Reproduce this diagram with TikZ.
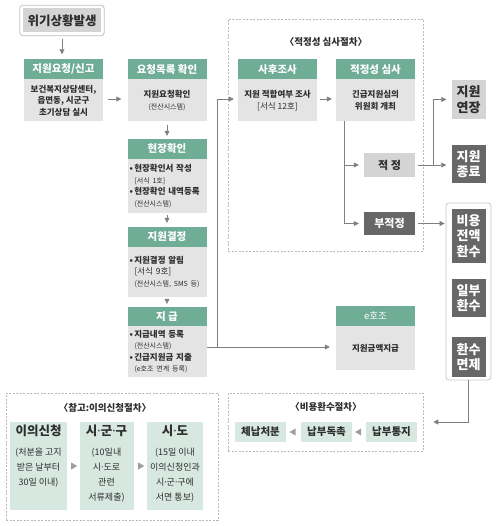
\documentclass[tikz,border=0pt]{standalone}
\usepackage{fontspec}
\setmainfont{Noto Sans CJK KR}
\newfontfamily\latinf{Noto Sans}
\usetikzlibrary{arrows.meta,shapes.geometric,fit}
\definecolor{hdgreen}{HTML}{6FAD96}
\definecolor{bdgray}{HTML}{E4E4E4}
\definecolor{ltgray}{HTML}{D4D4D4}
\definecolor{dkgray}{HTML}{676767}
\definecolor{palegreen}{HTML}{D6E8E0}
\definecolor{linegray}{HTML}{808080}
\definecolor{txtgray}{HTML}{2E2E2E}
\newcommand{\fsz}[2]{\fontsize{#1}{#2}\selectfont}
\newcommand{\sm}{\mdseries\fsz{7}{9}}
\newcommand{\md}{{\latinf\mdseries ·}}
\newcommand{\flowarrow}{-{Triangle[length=5pt,width=5pt]}}
\tikzset{
  hd/.style={fill=hdgreen,text=white,font=\bfseries\fsz{10.5}{12},minimum width=79,minimum height=20,inner sep=0},
  bd/.style={fill=bdgray,text=txtgray,font=\bfseries\fsz{8.5}{11.5},minimum width=79,inner sep=0,align=center},
  lst/.style={text width=75,inner xsep=2,align=left},
  crisisbox/.style={fill=ltgray,text=txtgray,font=\bfseries\fsz{12.5}{14},minimum width=78,minimum height=24,inner sep=0},
  ltbox/.style={fill=ltgray,text=txtgray,font=\bfseries\fsz{11}{13},inner sep=0,align=center},
  dkbox/.style={fill=dkgray,text=white,font=\bfseries\fsz{11}{13},inner sep=0,align=center},
  rbox/.style={font=\bfseries\fsz{13}{15.5},minimum width=34},
  procframe/.style={draw=gray!55,dash pattern=on 2pt off 1.5pt,line width=0.6pt,inner sep=0},
  proctitle/.style={font=\bfseries\fsz{9.5}{11},text=txtgray},
  pgbox/.style={fill=palegreen,text=txtgray,inner sep=0},
  tri/.style={isosceles triangle,isosceles triangle stretches,fill=gray!75,minimum width=7,minimum height=6,inner sep=0},
  conn/.style={draw=linegray,line width=0.7pt},
}

\begin{document}
\begin{tikzpicture}[x=1pt,y=-1pt]
\useasboundingbox (0,0) rectangle (497,526);

% request side
\node[crisisbox] (crisis) at (62,20.5) {위기상황발생};
\node[fit=(crisis),inner sep=3,draw=gray!50,line width=0.8pt,rounded corners=3] (crisisframe) {};
\node[hd] (reqhd) at (63.5,69.5) {지원요청/신고};
\node[bd,minimum height=42] (reqbd) at (63.5,100.5) {보건복지상담센터,\\읍면동, 시군구\\초기상담 실시};
\node[hd] (listhd) at (167,69.5) {요청목록 확인};
\node[bd,minimum height=42] (listbd) at (167,100.5) {지원요청확인\\{\sm (전산시스템)}};
\node[hd] (sitehd) at (167,149) {현장확인};
\node[bd,lst,minimum height=54] (sitebd) at (167,186) {•\,현장확인서 작성\\\hspace*{5pt}{\sm [서식 1호]}\\•\,현장확인 내역등록\\\hspace*{5pt}{\sm (전산시스템)}};
\node[hd] (dechd) at (167,237) {지원결정};
\node[bd,lst,minimum height=50] (decbd) at (167,272) {•\,지원결정 알림\\\hspace*{5pt}{\mdseries [서식 9호]}\\\hspace*{5pt}{\sm (전산시스템, SMS 등)}};
\node[hd,minimum height=19] (payhd) at (167,316.5) {지 급};
\node[bd,lst,minimum height=51] (paybd) at (167,351.5) {•\,지급내역 등록\\\hspace*{5pt}{\sm (전산시스템)}\\•\,긴급지원금 지출\\\hspace*{5pt}{\sm (e호조 연계 등록)}};

\draw[conn,\flowarrow,shorten <=3pt,shorten >=5pt] (crisisframe.south) -- (crisisframe.south |- reqhd.north);
\draw[conn,\flowarrow,shorten <=5pt,shorten >=6pt] (reqbd.east |- 0,99) -- (listbd.west |- 0,99);
\draw[conn,\flowarrow,shorten <=3pt,shorten >=3pt] (listbd) -- (sitehd);
\draw[conn,\flowarrow,shorten <=2pt,shorten >=4pt] (sitebd) -- (dechd);
\draw[conn,\flowarrow,shorten <=2pt,shorten >=3pt] (decbd) -- (payhd);

% review procedure
\node[procframe,minimum width=195,minimum height=232] (reviewproc) at (325.5,135) {};
\node[proctitle] (reviewtitle) at (326,42) {〈적정성 심사절차〉};
\node[hd] (posthd) at (277.5,69.5) {사후조사};
\node[bd,minimum height=42] (postbd) at (277.5,100.5) {지원 적합여부 조사\\{\mdseries [서식 12호]}};
\node[hd] (revhd) at (375.5,69.5) {적정성 심사};
\node[bd,minimum height=42] (revbd) at (375.5,100.5) {긴급지원심의\\위원회 개최};
\node[ltbox,minimum width=51,minimum height=24] (okbox) at (389.5,165) {적 정};
\node[dkbox,minimum width=51,minimum height=23] (nokbox) at (389.5,223.5) {부적정};
\node[hd] (ehojohd) at (375.5,316) {\mdseries\fsz{9.5}{11}e호조};
\node[bd,minimum height=44] (ehojobd) at (375.5,348) {지원금액지급};

\node[ltbox,rbox,minimum height=39] (extbox) at (468.5,99.5) {지원\\연장};
\node[dkbox,rbox,minimum height=38] (endbox) at (468.5,164) {지원\\종료};
\node[draw=gray!45,line width=0.8pt,rounded corners=3,minimum width=45,minimum height=177] (refundgrp) at (468.5,291.5) {};
\node[dkbox,rbox,minimum height=54] (fullbox) at (468.5,236) {비용\\전액\\환수};
\node[dkbox,rbox,minimum height=38] (partbox) at (468.5,298) {일부\\환수};
\node[dkbox,rbox,minimum height=40] (waivebox) at (468.5,357) {환수\\면제};

\draw[conn,\flowarrow,shorten <=3pt,shorten >=4pt] (postbd.east |- 0,99) -- (revbd.west |- 0,99);
\coordinate (revdown) at (344,121.5);
\draw[conn,\flowarrow,shorten >=5pt] (revdown) |- (okbox.west);
\draw[conn,\flowarrow,shorten >=5pt] (revdown) |- (nokbox.west);
\coordinate (okjct) at (433,165);
\draw[conn,\flowarrow,shorten <=3pt,shorten >=5pt] (okbox.east) -- (endbox.west |- okbox.east);
\draw[conn,\flowarrow,shorten >=5pt] (okjct) |- (extbox.west);
\draw[conn,\flowarrow,shorten <=3pt,shorten >=1pt] (nokbox.east) -- (refundgrp.west |- nokbox.east);

\coordinate (payjct) at (217,347);
\draw[conn] (paybd.east |- payjct) -- (payjct);
\draw[conn,\flowarrow,shorten >=6pt] (payjct) -- (ehojobd.west |- payjct);
\draw[conn,\flowarrow,shorten >=4pt] (payjct) |- (postbd.west |- 0,99);

% refund procedure
\node[procframe,minimum width=195,minimum height=58] (refundproc) at (325.5,422) {};
\node[proctitle] (refundtitle) at (326,407) {〈비용환수절차〉};
\node[pgbox,font=\bfseries\fsz{10.5}{12},minimum width=51,minimum height=20] (seizure) at (260.5,432) {체납처분};
\node[pgbox,font=\bfseries\fsz{10.5}{12},minimum width=51,minimum height=20] (reminder) at (326.5,432) {납부독촉};
\node[pgbox,font=\bfseries\fsz{10.5}{12},minimum width=51,minimum height=20] (notice) at (391.5,432) {납부통지};
\path (reminder) -- (seizure) node[midway,tri,shape border rotate=180] (tri1) {};
\path (notice) -- (reminder) node[midway,tri,shape border rotate=180] (tri2) {};
\draw[conn,\flowarrow,shorten >=10pt] (refundgrp.south) |- (refundproc.east);

% appeal procedure
\node[procframe,minimum width=212,minimum height=127] (appealproc) at (112,456.5) {};
\node[proctitle] (appealtitle) at (105,408) {〈참고:이의신청절차〉};
\node[pgbox,inner ysep=3] (appeal1) at (38.5,466) {\parbox[t][82pt][t]{57pt}{\centering{\bfseries\fsz{12.5}{14}이의신청}\par\vspace{5pt}\fsz{9}{15}(처분을 고지\par 받은 날부터\par 30일 이내)\par}};
\node[pgbox,inner ysep=3] (appeal2) at (106.5,466) {\parbox[t][82pt][t]{54pt}{\centering{\bfseries\fsz{12.5}{14}시\md 군\md 구}\par\vspace{5pt}\fsz{9}{15}(10일내\par 시\md 도로\par 관련\par 서류제출)\par}};
\node[pgbox,inner ysep=3] (appeal3) at (175,466) {\parbox[t][82pt][t]{56pt}{\centering{\bfseries\fsz{12.5}{14}시\md 도}\par\vspace{5pt}\fsz{9}{15}(15일 이내\par 이의신청인과\par 시\md 군\md 구에\par 서면 통보)\par}};
\path (appeal1) -- (appeal2) node[midway,tri] (tri3) {};
\path (appeal2) -- (appeal3) node[midway,tri] (tri4) {};
\end{tikzpicture}
\end{document}
